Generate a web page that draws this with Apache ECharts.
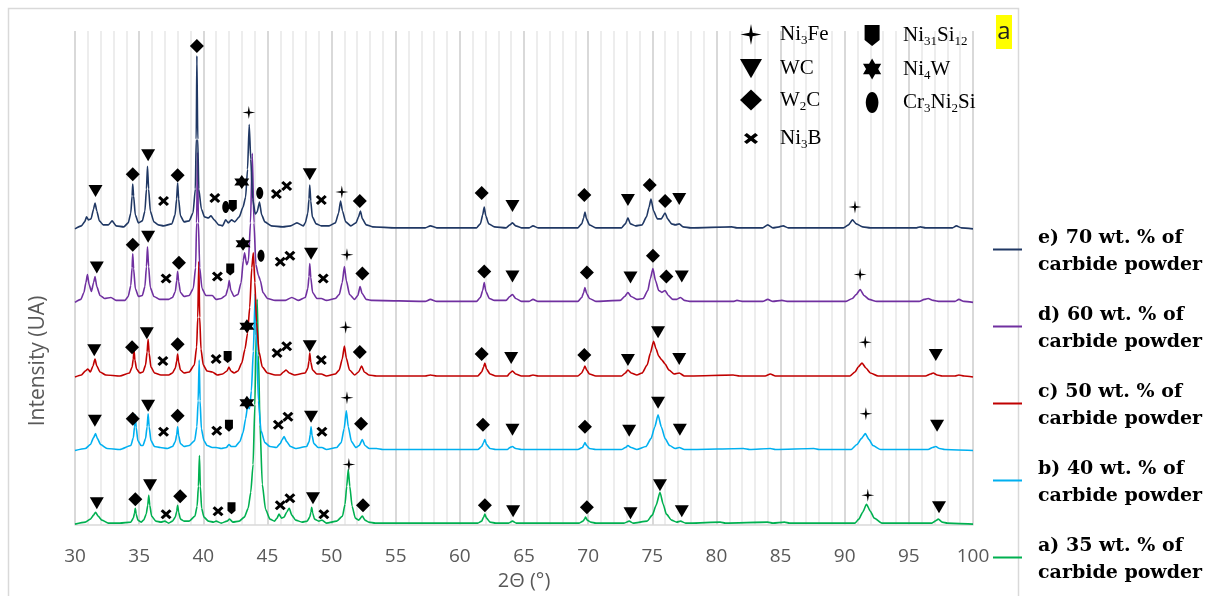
<!DOCTYPE html>
<html>
<head>
<meta charset="utf-8">
<script src="https://cdn.jsdelivr.net/npm/echarts@6/dist/echarts.min.js"></script>
<style>html,body{margin:0;padding:0;background:#fff;}#c{width:1216px;height:596px;}</style>
</head>
<body>
<div id="c"></div>
<script>
// ---------------- DATA ----------------
const xTicks = [30,35,40,45,50,55,60,65,70,75,80,85,90,95,100];

const seriesNames = [
  'a) 35 wt. % of\ncarbide powder',
  'b) 40 wt. % of\ncarbide powder',
  'c) 50 wt. % of\ncarbide powder',
  'd) 60 wt. % of\ncarbide powder',
  'e) 70 wt. % of\ncarbide powder'
];
// vertical stacking offset of each pattern (intensity units)
const stackOffset = [1, 75, 149, 224, 298];

// intensity above each pattern's own baseline, [2theta, intensity]
const pattern35 = [[30,0],[30.8,2],[31.2,5],[31.45,9],[31.6,12],[31.8,8],[32.1,4],[32.6,1],[33.5,1],
 [34.35,2],[34.55,6],[34.64,11],[34.7,16],[34.77,10],[34.9,4],[35.15,2],
 [35.35,4],[35.55,10],[35.67,19],[35.75,29],[35.83,19],[35.97,8],[36.3,3],[36.7,2],[37.0,3],[37.3,1],
 [37.6,3],[37.82,7],[37.93,13],[38.0,19],[38.08,12],[38.22,5],[38.5,3],[38.9,3],
 [39.35,8],[39.52,18],[39.62,38],[39.7,69],[39.77,38],[39.87,16],[40.05,7],[40.4,3],[40.8,2],[41.0,3],[41.4,1],[41.85,3],[42.05,5],[42.3,2],[42.8,3],[43.2,7],[43.5,16],[43.7,32],[43.88,60],[44.02,120],[44.12,190],[44.2,226],[44.3,170],[44.42,100],[44.6,40],[44.85,15],[45.2,5],[45.55,3],[45.75,6],[45.9,10],[46.1,6],[46.3,7],[46.5,12],[46.7,16],[46.9,9],[47.2,4],[47.7,2],
 [48.1,3],[48.3,7],[48.39,12],[48.45,17],[48.53,11],[48.67,5],[49.0,3],[49.25,4],[49.6,1],[50.4,3],
 [50.85,8],[51.05,20],[51.18,38],[51.3,55],[51.42,38],[51.6,18],[51.85,6],[52.1,4],[52.4,8],[52.6,4],[52.9,2],[53.4,1],[61.4,1],[61.7,3],[61.85,7],[61.95,10],[62.08,6],[62.35,2],[62.8,1],[63.8,1],[64.1,3],[64.4,1],[69.3,1],[69.6,3],[69.72,5],[69.8,7],[69.93,4],[70.2,2],[70.6,1],[72.8,1],[73.2,3],[73.5,1],[74.6,3],[75.0,9],[75.3,19],[75.6,32],[75.85,20],[76.1,10],[76.5,4],[76.9,2],[77.2,3],[77.6,1],[78,1],[80.3,2],[80.7,1],[84.0,2],[84.4,1],[85.3,2],[85.7,1],[90.8,1],[91.1,5],[91.4,12],[91.7,20],[92.0,13],[92.3,6],[92.9,1],[96.8,1],[97.05,3],[97.3,5],[97.6,2],[98,1],[100,0]];

const pattern40 = [[30,0],[30.8,2],[31.2,6],[31.45,13],[31.6,17],[31.75,12],[32.0,6],[32.5,2],[33.5,1],
 [34.35,5],[34.55,13],[34.64,24],[34.7,36],[34.77,23],[34.9,10],[35.15,5],
 [35.3,5],[35.5,12],[35.62,24],[35.7,37],[35.78,24],[35.92,10],[36.2,4],[36.65,3],[37.2,2],
 [37.6,4],[37.82,9],[37.93,16],[38.0,24],[38.08,15],[38.22,7],[38.5,4],[38.9,5],
 [39.33,10],[39.5,24],[39.6,50],[39.68,91],[39.75,50],[39.85,22],[40.05,10],[40.3,5],[40.7,3],[41.0,3],[41.4,2],[41.8,3],[42.0,6],[42.2,4],[42.5,4],[42.85,9],[43.1,18],[43.3,32],[43.45,44],[43.6,42],[43.75,60],[43.9,100],[44.05,158],[44.17,100],[44.3,50],[44.5,20],[44.8,8],[45.2,4],[45.7,3],[46.0,7],[46.15,11],[46.3,14],[46.5,9],[46.8,4],[47.2,2],
 [48.05,4],[48.25,9],[48.34,16],[48.4,24],[48.48,15],[48.62,7],[48.95,3],[49.25,3],[49.6,1],[50.4,3],
 [50.75,8],[50.98,22],[51.15,40],[51.3,24],[51.55,9],[51.9,3],[52.15,5],[52.4,11],[52.6,5],[52.95,2],[53.5,2],[54,1],[57.7,1],[61.4,1],[61.7,4],[61.85,8],[61.95,11],[62.08,6],[62.35,2],[62.8,1],[63.7,1],[63.9,3],[64.1,4],[64.35,2],[64.8,1],[69.2,1],[69.55,3],[69.68,6],[69.75,8],[69.88,5],[70.1,2],[70.6,1],[72.6,1],[72.9,3],[73.1,5],[73.35,3],[73.8,1],[74.5,4],[74.9,12],[75.2,24],[75.45,36],[75.7,24],[76.0,12],[76.35,5],[76.8,2],[77.1,3],[77.5,1],[78,1],[82.1,2],[82.6,1],[84.2,2],[84.6,1],[87.6,2],[88,1],[90.5,1],[90.95,6],[91.3,12],[91.6,17],[91.9,11],[92.2,5],[92.8,1],[96.5,1],[96.85,3],[97.1,4],[97.4,2],[97.8,1],[100,0]];

const pattern50 = [[30,0],[30.5,2],[30.8,6],[31.0,8],[31.2,5],[31.4,11],[31.56,18],[31.7,11],[31.95,5],[32.4,2],[33.5,1],
 [34.25,4],[34.45,10],[34.54,18],[34.6,27],[34.67,17],[34.8,8],[35.05,4],
 [35.3,5],[35.5,12],[35.62,25],[35.7,38],[35.78,24],[35.92,10],[36.2,4],[36.7,2],[37.3,2],
 [37.6,4],[37.82,9],[37.93,16],[38.0,23],[38.08,15],[38.22,7],[38.5,4],[38.9,5],
 [39.3,12],[39.48,30],[39.57,60],[39.65,116],[39.72,60],[39.82,28],[40.0,12],[40.3,6],[40.7,5],[41.1,2],[41.5,3],[41.85,6],[42.0,10],[42.15,6],[42.4,4],[42.7,6],[43.0,14],[43.25,28],[43.45,44],[43.62,70],[43.78,110],[43.9,125],[44.02,95],[44.15,55],[44.35,25],[44.6,10],[45.0,4],[45.6,2],[46.0,2],[46.25,5],[46.45,7],[46.7,4],[47.1,2],
 [47.95,4],[48.15,9],[48.24,16],[48.3,24],[48.38,15],[48.52,7],[48.85,3],[49.2,3],[49.6,1],[50.3,3],
 [50.6,7],[50.83,18],[51.0,31],[51.15,19],[51.4,7],[51.8,2],[52.1,5],[52.35,11],[52.55,5],[52.9,2],[53.5,1],[57.3,1],[57.7,2],[58.2,1],[61.4,1],[61.7,5],[61.85,10],[61.95,14],[62.08,8],[62.35,3],[62.8,1],[63.7,1],[63.9,4],[64.1,6],[64.35,3],[64.8,1],[65.4,1],[65.7,2],[66.1,1],[69.2,1],[69.5,4],[69.65,8],[69.75,11],[69.88,7],[70.1,3],[70.6,1],[72.6,1],[72.9,4],[73.1,7],[73.35,4],[73.8,2],[74.2,4],[74.6,12],[74.85,24],[75.1,36],[75.3,28],[75.5,21],[75.75,17],[76.0,13],[76.3,7],[76.7,3],[77.1,4],[77.5,1],[78,1],[81.3,2],[81.8,1],[83.8,1],[84.2,3],[84.6,1],[90.4,1],[90.8,5],[91.05,10],[91.35,14],[91.65,9],[92.0,4],[92.6,1],[96.3,1],[96.7,3],[96.9,4],[97.2,2],[97.6,1],[98.6,1],[98.9,2],[99.3,1],[100,0]];

const pattern60 = [[30,0],[30.45,3],[30.7,10],[30.85,20],[30.97,28],[31.1,18],[31.28,11],[31.45,20],[31.56,26],[31.7,16],[31.95,7],[32.3,4],[32.8,5],[33.2,2],[33.9,2],
 [34.15,6],[34.35,17],[34.45,35],[34.5,49],[34.57,34],[34.7,14],[34.95,6],
 [35.25,7],[35.45,16],[35.57,36],[35.65,56],[35.74,36],[35.87,15],[36.15,6],[36.6,3],[37.3,3],
 [37.6,5],[37.82,11],[37.93,22],[38.0,31],[38.08,21],[38.22,10],[38.5,6],[38.9,7],
 [39.22,14],[39.4,35],[39.48,80],[39.55,151],[39.62,80],[39.72,35],[39.9,14],[40.2,7],[40.5,7],[40.7,7],[41.0,3],[41.4,4],[41.75,7],[41.92,14],[42.02,22],[42.15,12],[42.4,6],[42.7,8],[42.95,20],[43.12,42],[43.22,50],[43.38,38],[43.52,42],[43.68,80],[43.82,150],[43.95,80],[44.1,38],[44.3,27],[44.45,22],[44.65,10],[45.0,4],[45.6,2],[46.4,2],[46.9,5],[47.4,2],
 [47.95,5],[48.15,14],[48.24,26],[48.3,39],[48.38,25],[48.52,10],[48.85,4],[49.2,4],[49.6,2],[50.3,4],
 [50.6,8],[50.83,20],[51.0,36],[51.15,22],[51.4,8],[51.8,3],[52.05,7],[52.22,16],[52.38,9],[52.7,3],[53.2,2],[57.3,1],[57.7,3],[58.2,1],[61.3,1],[61.6,5],[61.78,12],[61.9,20],[62.03,11],[62.3,4],[62.7,2],[63.6,2],[63.9,6],[64.1,8],[64.35,4],[64.8,1],[65.4,1],[65.7,3],[66.1,1],[69.2,1],[69.5,5],[69.65,10],[69.75,15],[69.88,9],[70.1,4],[70.6,1],[72.5,2],[72.85,6],[73.1,10],[73.35,6],[73.8,3],[74.3,4],[74.65,12],[74.85,24],[75.05,34],[75.25,22],[75.5,12],[75.75,10],[76.0,12],[76.25,7],[76.6,3],[76.9,3],[77.2,5],[77.5,2],[78,1],[81.3,1],[81.6,2],[82.1,1],[83.6,1],[84.0,3],[84.4,1],[85.1,2],[85.6,1],[90.1,1],[90.6,4],[90.9,8],[91.2,13],[91.5,7],[91.9,3],[92.5,1],[95.8,1],[96.2,3],[96.5,4],[96.9,2],[97.4,1],[98.6,1],[98.9,3],[99.3,1],[100,0]];

const pattern70 = [[30,0],[30.5,3],[30.75,7],[30.9,12],[31.05,9],[31.25,10],[31.45,20],[31.56,26],[31.7,18],[31.9,8],[32.2,4],[32.6,4],[32.9,8],[33.2,3],[33.8,2],
 [34.15,6],[34.35,16],[34.45,33],[34.5,45],[34.57,33],[34.7,14],[34.95,6],
 [35.25,8],[35.45,18],[35.57,40],[35.65,63],[35.74,40],[35.87,18],[36.15,7],[36.5,4],[36.9,3],
 [37.55,5],[37.8,14],[37.92,30],[38.0,46],[38.08,30],[38.22,13],[38.5,7],[38.9,8],
 [39.2,16],[39.38,40],[39.45,90],[39.5,174],[39.57,90],[39.65,40],[39.85,20],[40.1,12],[40.4,11],[40.6,13],[40.85,9],[41.2,4],[41.5,3],[41.75,9],[41.95,6],[42.2,9],[42.45,7],[42.8,12],[43.1,22],[43.3,32],[43.45,60],[43.58,105],[43.7,70],[43.85,30],[44.05,15],[44.2,17],[44.38,27],[44.55,14],[44.8,7],[45.3,3],[46.2,2],[46.8,3],[47.3,6],[47.8,3],
 [47.95,6],[48.15,16],[48.24,30],[48.3,44],[48.38,28],[48.5,12],[48.8,5],[49.2,3],[49.8,3],
 [50.3,6],[50.55,16],[50.7,28],[50.85,18],[51.1,7],[51.5,3],[51.9,6],[52.1,12],[52.25,18],[52.4,10],[52.7,4],[53.2,2],[55,1],[57.3,1],[57.7,3],[58.2,1],[61.3,1],[61.6,5],[61.78,14],[61.9,22],[62.02,13],[62.25,5],[62.7,2],[63.6,1],[63.9,4],[64.1,6],[64.35,3],[64.8,1],[65.4,1],[65.7,3],[66.1,1],[69.2,1],[69.5,5],[69.65,11],[69.75,17],[69.87,10],[70.1,4],[70.6,1],[72.6,1],[72.9,5],[73.1,11],[73.3,5],[73.7,3],[74.2,4],[74.55,12],[74.75,22],[74.9,30],[75.1,18],[75.4,10],[75.7,10],[76.0,16],[76.2,10],[76.5,5],[76.8,4],[77.1,5],[77.4,2],[78,1],[81.2,2],[81.6,1],[83.6,1],[84.0,4],[84.4,1],[84.9,2],[85.2,3],[85.6,1],[89.9,1],[90.3,4],[90.6,9],[90.9,5],[91.4,2],[92,1],[95.6,1],[95.9,2],[96.3,1],[98.4,1],[98.7,3],[99.1,1],[100,0]];

const patterns = [pattern35, pattern40, pattern50, pattern60, pattern70];

// phase identification marks, [2theta, chart intensity]
const phaseNames = ['Ni3Fe','WC','W2C','Ni3B','Ni31Si12','Ni4W','Cr3Ni2Si'];
const marksNi3Fe = [[43.55,415],[50.8,335],[90.8,320],[51.2,272],[91.2,252],[51.1,199],[91.6,184],[51.2,128],[91.65,112],[51.35,61],[91.8,30]];
const marksWC = [[31.6,336],[35.7,372],[48.3,353],[64.1,321],[73.1,327],[77.1,328],
  [31.7,259],[35.7,290],[48.4,273],[64.1,250],[73.3,249],[77.3,250],
  [31.5,176],[35.6,193],[48.3,180],[64.0,168],[73.1,166],[75.45,194],[77.1,167],[97.1,171],
  [31.55,105],[35.7,120],[48.4,109],[64.1,96],[73.2,95],[75.45,123],[77.15,96],[97.2,100],
  [31.7,22],[35.85,40],[48.55,27],[64.15,14],[73.3,12],[75.6,40],[77.3,14],[97.35,18]];
const marksW2C = [[34.5,353],[38.0,352],[39.5,482],[52.2,326],[61.7,334],[69.7,332],[74.8,342],[76.0,326],
  [34.5,282],[38.1,264],[52.4,253],[61.9,255],[69.9,254],[75.05,271],[76.1,250],
  [34.45,179],[38.0,182],[52.2,174],[61.7,172],[69.7,171],
  [34.5,107],[38.0,110],[52.3,102],[61.8,101],[69.75,99],
  [34.7,26],[38.2,29],[52.45,20],[61.95,20],[69.9,18]];
const marksNi3B = [[36.9,326],[40.9,329],[45.7,333],[46.5,341],[49.2,327],
  [37.1,248],[41.1,250],[46.0,265],[46.75,271],[49.35,248],
  [36.85,165],[41.0,167],[45.75,173],[46.5,180],[49.2,166],
  [36.9,94],[41.05,95],[45.85,101],[46.6,109],[49.25,94],
  [37.1,11],[41.15,14],[46.0,20],[46.75,27],[49.4,11]];
const marksNi31Si12 = [[42.3,321],[42.1,257],[41.9,169],[42.0,100],[42.2,17]];
const marksNi4W = [[43.0,345],[43.1,283],[43.4,200],[43.4,123]];
const marksCr3Ni2Si = [[41.75,320],[44.4,334],[44.5,271]];
const phaseMarks = [marksNi3Fe, marksWC, marksW2C, marksNi3B, marksNi31Si12, marksNi4W, marksCr3Ni2Si];

// ---------------- STYLE ----------------
const lineColors = ['#00b050','#00b0f0','#c00000','#7030a0','#203864'];
const hexagram = 'path://M8,0 L10.31,4 L14.93,4 L12.62,8 L14.93,12 L10.31,12 L8,16 L5.69,12 L1.07,12 L3.38,8 L1.07,4 L5.69,4 Z';
const ellipse = 'path://M6,0 C9.3,0 12,4.5 12,10 C12,15.5 9.3,20 6,20 C2.7,20 0,15.5 0,10 C0,4.5 2.7,0 6,0 Z';
const legendLine = 'path://M0,0 L29,0 L29,2 L0,2 Z M0,7 L0.01,7 Z';
const phaseSymbol = {
  'Ni3Fe': 'path://M7,0 L8.1,5.9 L14,7 L8.1,8.1 L7,14 L5.9,8.1 L0,7 L5.9,5.9 Z',
  'WC': 'path://M0,0 L16,0 L8,14 Z',
  'W2C': 'diamond',
  'Ni3B': 'path://M2,0 L5,3 L8,0 L10,2 L7,5 L10,8 L8,10 L5,7 L2,10 L0,8 L3,5 L0,2 Z',
  'Ni31Si12': 'path://M0,0 L10,0 L10,10 L5,14 L0,10 Z',
  'Ni4W': hexagram,
  'Cr3Ni2Si': ellipse
};
const phaseSize = {
  'Ni3Fe': [13,13], 'WC': [14,12], 'W2C': [14,14], 'Ni3B': [11,10],
  'Ni31Si12': [8,12], 'Ni4W': [15,14], 'Cr3Ni2Si': [7,12]
};
const phaseLabel = {
  'Ni3Fe': '{t|Ni}{s|3}{t|Fe}',
  'WC': '{t|WC}',
  'W2C': '{t|W}{b|2}{t|C}',
  'Ni3B': '{t|Ni}{b|3}{t|B}',
  'Ni31Si12': '{t|Ni}{b|31}{t|Si}{b|12}',
  'Ni4W': '{t|Ni}{s|4}{t|W}',
  'Cr3Ni2Si': '{t|Cr}{s|3}{t|Ni}{s|2}{t|Si}'
};
const legendRich = {
  t: {fontFamily: 'Liberation Serif', fontSize: 21, lineHeight: 26, color: '#000'},
  s: {fontFamily: 'Liberation Serif', fontSize: 13, lineHeight: 19, verticalAlign: 'bottom', color: '#000'},
  b: {fontFamily: 'Liberation Serif', fontSize: 13, lineHeight: 13, verticalAlign: 'bottom', color: '#000'}
};

const series = [];
patterns.forEach((p, i) => {
  series.push({
    name: seriesNames[i], type: 'line', showSymbol: false, symbol: 'none',
    smooth: 0.2, smoothMonotone: 'x',
    data: p.map(d => [d[0], d[1] + stackOffset[i]]),
    lineStyle: {color: lineColors[i], width: 1.6},
    itemStyle: {color: lineColors[i]},
    z: 2
  });
});
phaseNames.forEach((n, i) => {
  series.push({
    name: n, type: 'scatter', data: phaseMarks[i],
    symbol: phaseSymbol[n], symbolSize: phaseSize[n], symbolKeepAspect: false,
    itemStyle: {color: '#000', opacity: 1}, z: 5, silent: true
  });
});

function phaseLegend(names, left, top, w, h, gap, padLeft, keep) {
  return {
    data: names.map(n => ({name: n, icon: phaseSymbol[n]})),
    orient: 'vertical', left: left, top: top, padding: 0,
    itemWidth: w, itemHeight: h, itemGap: gap, selectedMode: false,
    symbolKeepAspect: keep,
    formatter: n => phaseLabel[n],
    textStyle: {padding: [0, 0, 0, padLeft], rich: legendRich}
  };
}

const chart = echarts.init(document.getElementById('c'), null, {renderer: 'canvas'});
chart.setOption({
  animation: false,
  backgroundColor: '#fff',
  grid: {left: 75, right: 243, top: 31, bottom: 68},
  xAxis: {
    type: 'value', min: xTicks[0], max: xTicks[xTicks.length - 1], interval: 5,
    name: '2Θ (°)', nameLocation: 'middle', nameGap: 37,
    nameTextStyle: {fontFamily: 'Open Sans', fontSize: 20, color: '#595959'},
    axisLine: {lineStyle: {color: '#d9d9d9', width: 1.5}},
    axisTick: {show: false},
    axisLabel: {fontFamily: 'Open Sans', fontSize: 19, color: '#595959', margin: 22},
    splitLine: {show: true, lineStyle: {color: '#d9d9d9', width: 2}},
    minorTick: {show: false, splitNumber: 5},
    minorSplitLine: {show: true, lineStyle: {color: '#ededed', width: 2}}
  },
  yAxis: {
    type: 'value', min: 0, max: 497,
    axisLine: {show: false}, axisTick: {show: false}, axisLabel: {show: false},
    splitLine: {show: false}
  },
  legend: [
    phaseLegend(['Ni3Fe','WC','W2C'], 740, 24, 22, 21, 10.5, 13, true),
    phaseLegend(['Ni31Si12','Ni4W','Cr3Ni2Si'], 863, 25, 22, 21, 10, 15, true),
    phaseLegend(['Ni3B'], 744, 128, 14, 11, 0, 17, false),
    {
      data: seriesNames.slice().reverse(),
      orient: 'vertical', left: 993, top: 225, padding: 0,
      itemWidth: 29, itemHeight: 7, itemGap: 23, icon: legendLine, symbolKeepAspect: false,
      selectedMode: false, itemStyle: {borderWidth: 0},
      textStyle: {fontFamily: 'DejaVu Serif', fontWeight: 'bold', fontSize: 19, lineHeight: 27, color: '#000', padding: [0, 0, 0, 11]}
    }
  ],
  graphic: [
    {type: 'rect', shape: {x: 8.5, y: 8.5, width: 1010, height: 620}, style: {fill: 'none', stroke: '#d9d9d9', lineWidth: 1.5}, z: -10, silent: true},
    {type: 'rect', shape: {x: 996, y: 15, width: 16, height: 34}, style: {fill: '#ffff00'}, z: 10, silent: true},
    {type: 'text', x: 1004, y: 32, style: {text: 'a', fontFamily: 'Open Sans', fontSize: 24, fill: '#222', align: 'center', verticalAlign: 'middle'}, z: 11, silent: true},
    {type: 'text', x: 38, y: 361, rotation: Math.PI / 2, style: {text: 'Intensity (UA)', fontFamily: 'Open Sans', fontSize: 21, fill: '#595959', align: 'center', verticalAlign: 'middle'}, silent: true}
  ],
  series: series
});
</script>
</body>
</html>
